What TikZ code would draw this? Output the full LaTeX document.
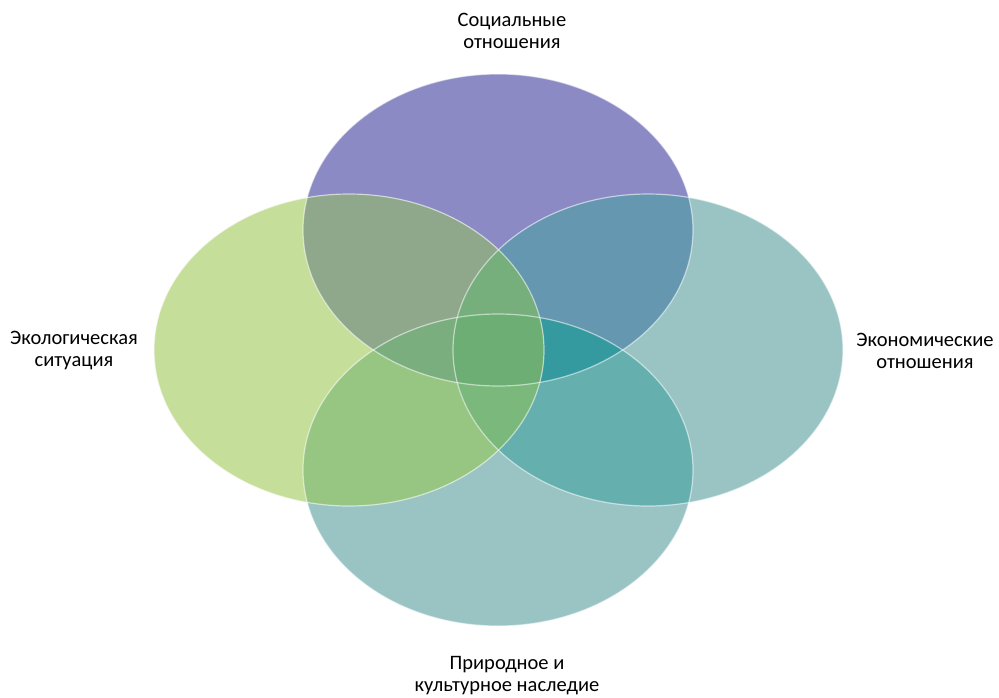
\documentclass[tikz,border=0pt]{standalone}
\usepackage{fontspec}
\setmainfont{Carlito}
\begin{document}
\begin{tikzpicture}[x=1pt,y=-1pt,
  edge/.style={draw=white,draw opacity=0.55,line width=1.2pt},
  lbl/.style={align=center,font=\fontsize{20.5}{22}\selectfont,text=black,inner sep=0pt}]
\useasboundingbox[fill=white] (0,0) rectangle (999,697);
\def\eT{(498,230) ellipse [x radius=195,y radius=156]}
\def\eL{(349,350) ellipse [x radius=195,y radius=156]}
\def\eR{(648,350) ellipse [x radius=195,y radius=156]}
\def\eB{(498,470) ellipse [x radius=195,y radius=156]}
\definecolor{cT}{HTML}{8B8AC4}
\definecolor{cL}{HTML}{C5DE9A}
\definecolor{cR}{HTML}{9AC4C4}
\definecolor{cB}{HTML}{9AC4C4}
\definecolor{cTL}{HTML}{8FA88C}
\definecolor{cTR}{HTML}{6597B0}
\definecolor{cLB}{HTML}{97C683}
\definecolor{cRB}{HTML}{65AFAF}
\definecolor{cTLR}{HTML}{76AF7C}
\definecolor{cTRB}{HTML}{349AA0}
\definecolor{cTLB}{HTML}{7AAE7E}
\definecolor{cLRB}{HTML}{7AB97B}
\definecolor{cTLRB}{HTML}{6CAE73}
% single regions
\fill[cT] \eT;
\fill[cR] \eR;
\fill[cB] \eB;
\fill[cL] \eL;
% pairs
\begin{scope}\clip \eT; \fill[cTL] \eL; \end{scope}
\begin{scope}\clip \eT; \fill[cTR] \eR; \end{scope}
\begin{scope}\clip \eL; \fill[cLB] \eB; \end{scope}
\begin{scope}\clip \eR; \fill[cRB] \eB; \end{scope}
% triples
\begin{scope}\clip \eT; \clip \eL; \fill[cTLR] \eR; \end{scope}
\begin{scope}\clip \eT; \clip \eR; \fill[cTRB] \eB; \end{scope}
\begin{scope}\clip \eT; \clip \eL; \fill[cTLB] \eB; \end{scope}
\begin{scope}\clip \eL; \clip \eR; \fill[cLRB] \eB; \end{scope}
% all four
\begin{scope}\clip \eT; \clip \eL; \clip \eR; \fill[cTLRB] \eB; \end{scope}
% outlines
\path[edge] \eT;
\path[edge] \eR;
\path[edge] \eB;
\path[edge] \eL;
\node[lbl] (t) at (512,31) {Социальные\\отношения};
\node[lbl] (l) at (74,351) {Экологическая\\ситуация};
\node[lbl] (r) at (925,351) {Экономические\\отношения};
\node[lbl] (b) at (507,676) {Природное и\\культурное наследие};
\end{tikzpicture}
\end{document}
